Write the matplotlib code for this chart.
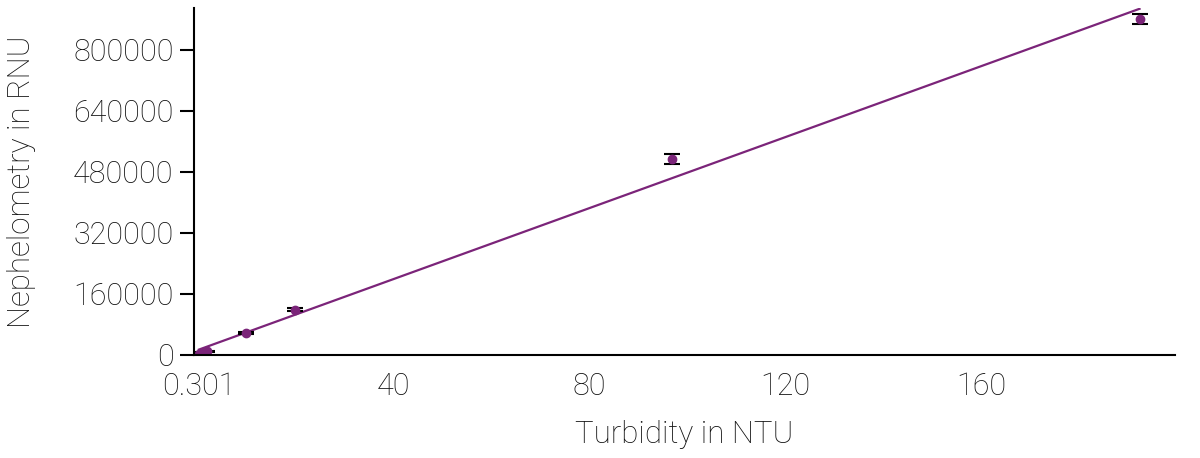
import matplotlib.pyplot as plt
import numpy as np

turbidity = [0.301, 1.0, 2.0, 10.0, 20.0, 97.0, 192.4]
rnu = [2500, 6000, 9500, 57700, 118000, 514000, 881000]
rnu_err = [1500, 1500, 2000, 3000, 4000, 13000, 13000]

x_ticks = [0.301, 40, 80, 120, 160]
x_tick_labels = ['0.301', '40', '80', '120', '160']
y_ticks = [0, 160000, 320000, 480000, 640000, 800000]

purple = '#7b2479'

plt.rcParams['font.family'] = ['Roboto', 'DejaVu Sans']
plt.rcParams['font.weight'] = 'light'

fig = plt.figure(figsize=(12, 4.58), dpi=100)
ax = fig.add_axes([0.162, 0.225, 0.817, 0.758])

# linear fit line
slope, icept = np.polyfit(turbidity, rnu, 1)
xs = np.array([turbidity[0], turbidity[-1]])
ax.plot(xs, slope * xs + icept, color=purple, lw=1.6)

ax.errorbar(turbidity, rnu, yerr=rnu_err, fmt='o', color=purple, ms=6,
            ecolor='black', elinewidth=1.5, capsize=6, capthick=1.5)

ax.set_xlim(-0.6, 199.6)
ax.set_ylim(0, 910000)
ax.set_xticks(x_ticks)
ax.set_xticklabels(x_tick_labels)
ax.set_yticks(y_ticks)
ax.tick_params(axis='x', length=0, pad=12, labelsize=22, labelcolor='#111111')
ax.tick_params(axis='y', length=10, width=1.5, pad=5, labelsize=22, labelcolor='#111111')
for s in ['top', 'right']:
    ax.spines[s].set_visible(False)
for s in ['left', 'bottom']:
    ax.spines[s].set_linewidth(1.5)

ax.set_xlabel('Turbidity in NTU', fontsize=22.5, fontweight='light', labelpad=14, color='#111111')
ax.set_ylabel('Nephelometry in RNU', fontsize=22.5, fontweight='light', labelpad=27, color='#111111')

fig.savefig('out.png', dpi=100)
